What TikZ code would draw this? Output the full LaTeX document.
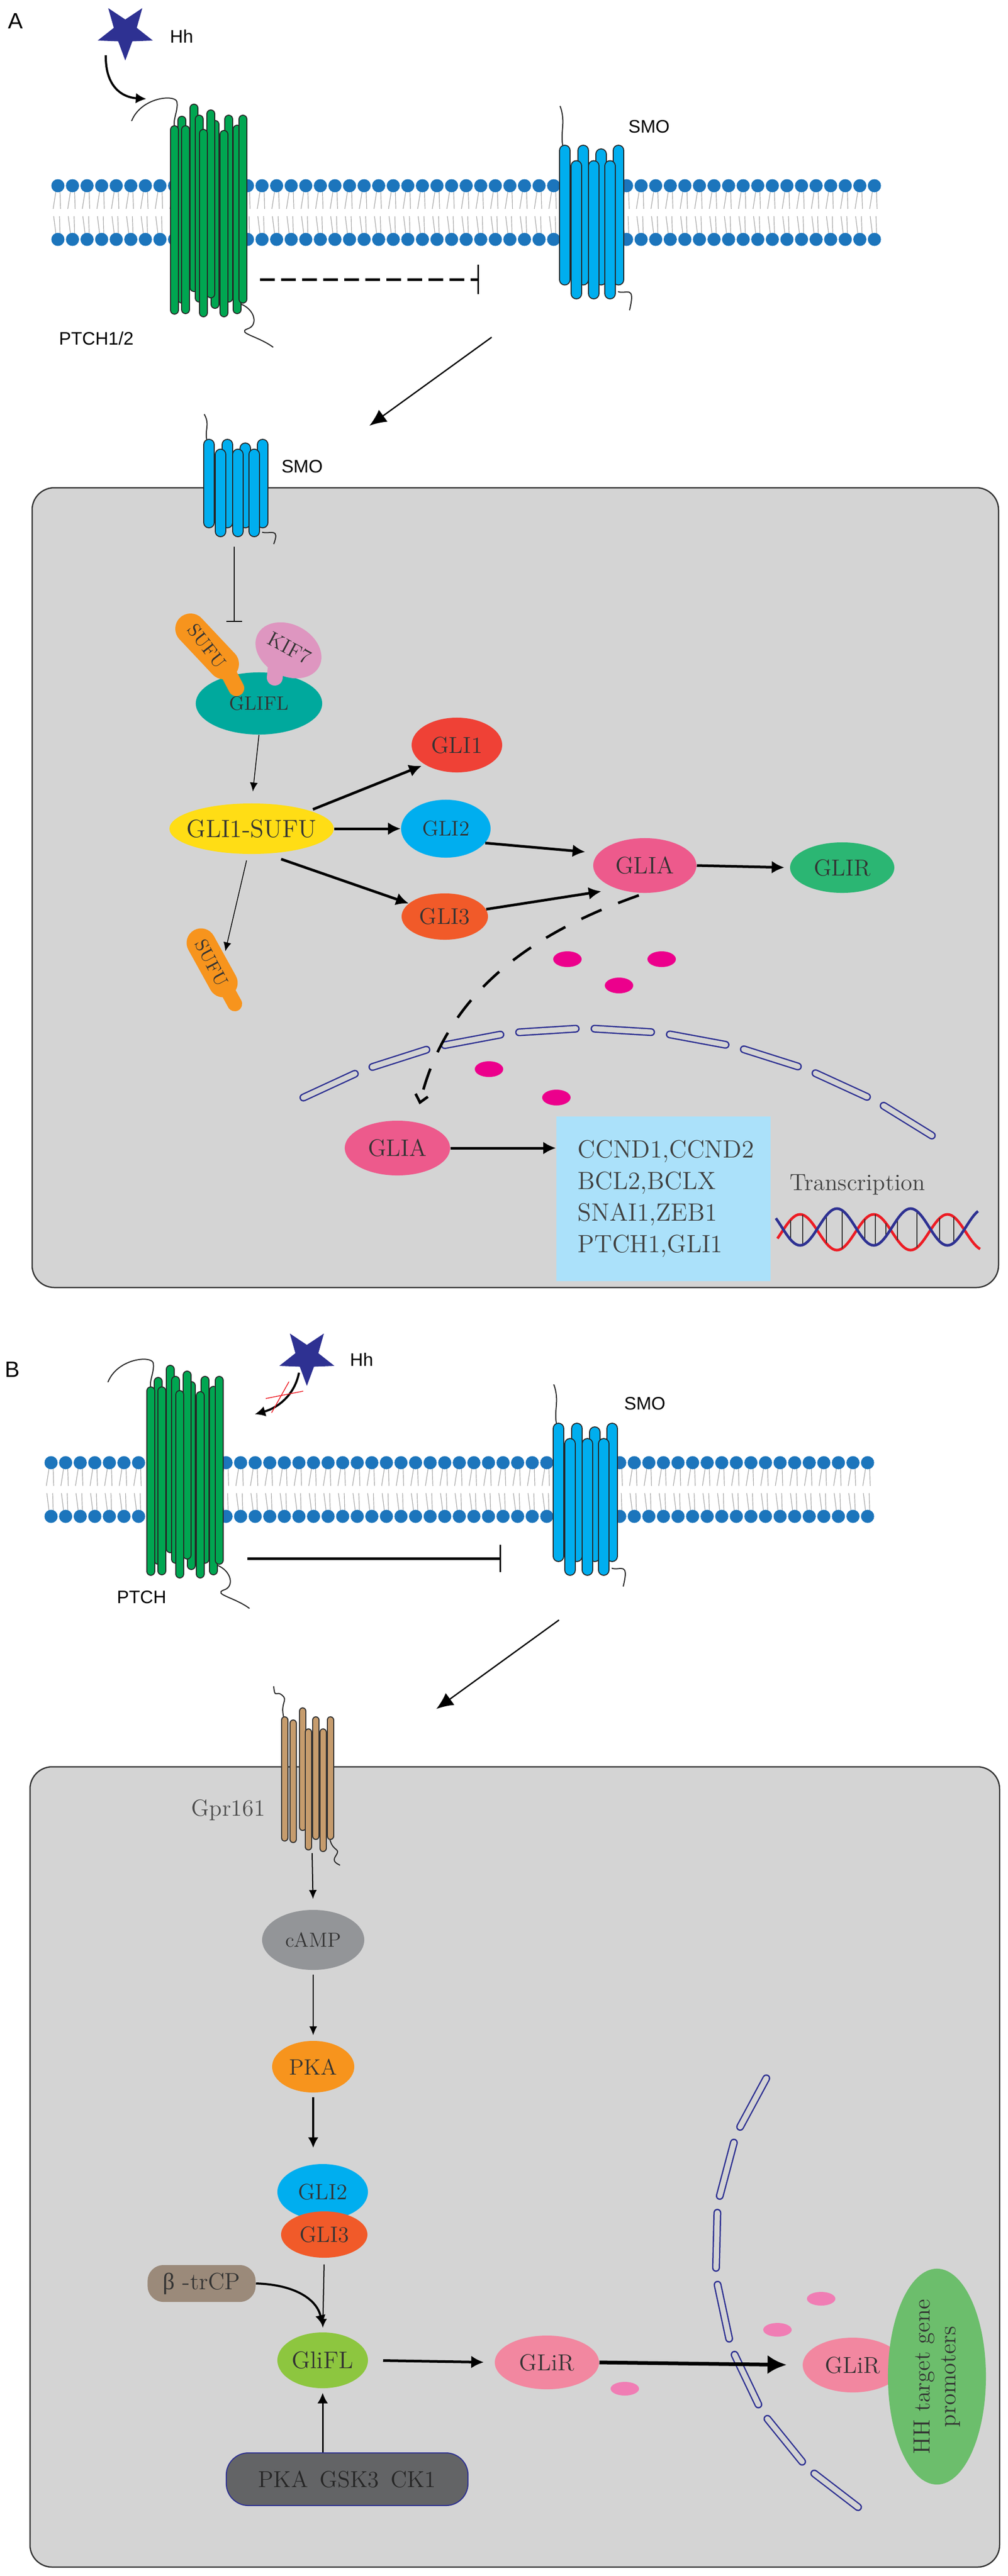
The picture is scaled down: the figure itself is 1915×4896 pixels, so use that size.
\documentclass[tikz,border=0pt]{standalone}
\usepackage{fontspec}
\setsansfont{Liberation Sans}
\newfontfamily\greekfont{Liberation Serif}
\usetikzlibrary{positioning,shapes.geometric,arrows.meta}

\definecolor{headblue}{RGB}{28,117,188}
\definecolor{tailgray}{RGB}{165,165,165}
\definecolor{ptchgreen}{RGB}{0,166,81}
\definecolor{smoblue}{RGB}{0,174,239}
\definecolor{hhblue}{RGB}{46,49,146}
\definecolor{cellgray}{RGB}{212,212,212}
\definecolor{gliflteal}{RGB}{0,169,157}
\definecolor{sufuorange}{RGB}{247,148,29}
\definecolor{kifpink}{RGB}{222,150,192}
\definecolor{sufuyellow}{RGB}{255,221,21}
\definecolor{gliired}{RGB}{239,65,54}
\definecolor{gliorange}{RGB}{241,90,41}
\definecolor{gliapink}{RGB}{237,90,140}
\definecolor{glirgreen}{RGB}{43,182,115}
\definecolor{dotmag}{RGB}{236,0,140}
\definecolor{nucnavy}{RGB}{46,49,146}
\definecolor{genebox}{RGB}{171,225,250}
\definecolor{dnared}{RGB}{237,28,36}
\definecolor{gprtan}{RGB}{198,156,109}
\definecolor{campgray}{RGB}{147,149,152}
\definecolor{trcpbrown}{RGB}{155,138,122}
\definecolor{gliflgreen}{RGB}{141,198,63}
\definecolor{glirpink}{RGB}{242,135,160}
\definecolor{dotpink}{RGB}{240,125,180}
\definecolor{promgreen}{RGB}{108,190,108}
\definecolor{kinasegray}{RGB}{99,100,102}

\tikzset{
  mol/.style={ellipse, inner sep=0pt, text=black!80, font=\fontsize{12.5}{15}\selectfont},
  lbl/.style={inner sep=0pt, font=\sffamily\fontsize{9.8}{12}\selectfont},
  tailline/.style={line width=0.02cm, black!85},
  lipid/.style={line width=0.012cm, tailgray},
  ptchrod/.style={draw=black!85, line width=0.02cm, double=ptchgreen, double distance=0.13cm, line cap=round},
  smorod/.style={draw=black!85, line width=0.02cm, double=smoblue, double distance=0.18cm, line cap=round},
  gprrod/.style={draw=black!80, line width=0.02cm, double=gprtan, double distance=0.10cm, line cap=round},
  envseg/.style={draw=nucnavy, line width=0.025cm, double=cellgray, double distance=0.10cm, line cap=round},
  panel/.style={draw=black!80, line width=0.025cm, fill=cellgray, rounded corners=0.42cm},
  thinarr/.style={-{Latex[length=0.17cm,width=0.15cm]}, line width=0.02cm},
  boldarr/.style={-{Latex[length=0.24cm,width=0.24cm]}, line width=0.05cm},
  longarr/.style={-{Latex[length=0.32cm,width=0.28cm]}, line width=0.025cm},
  inhib/.style={-{Bar[width=0.56cm,line width=0.03cm]}, line width=0.05cm},
  hhstar/.style={star, star points=5, star point ratio=2.4, minimum size=1.1cm, inner sep=0pt, fill=hhblue, rotate=36},
}

\newcommand{\bilayer}[3]{%
  \foreach \i in {1,...,#3}{
    \pgfmathsetmacro{\hx}{#1+27.7*(\i-1)}
    \draw[lipid] (\hx-4,#2+12) -- (\hx-9,#2+44) (\hx+4,#2+12) -- (\hx+5,#2+44)
                 (\hx-4,#2+90) -- (\hx-8,#2+58) (\hx+4,#2+90) -- (\hx+3,#2+58);
    \fill[headblue] (\hx,#2) circle[radius=12.5] (\hx,#2+102) circle[radius=12.5];
  }}
\newcommand{\ptch}[2]{%
  \draw[tailline] (#1-73,#2+33) .. controls (#1-55,#2-12) and (#1+8,#2-18) .. (#1+13,#2-4)
    .. controls (#1+16,#2+12) and (#1+6,#2+28) .. (#1+8,#2+42);
  \draw[tailline] (#1+135,#2+381) .. controls (#1+162,#2+392) and (#1+168,#2+422) .. (#1+147,#2+428)
    .. controls (#1+126,#2+436) and (#1+168,#2+442) .. (#1+196,#2+463);
  \foreach \xo/\yt/\yb in {37/0/358,14/23/380,77/31/390,103/21/378,69/11/370,47/21/378,
      119/40/400,0/41/401,21/41/400,55/48/406,94/50/406,130/21/380}
    \draw[ptchrod] (#1+\xo+8.5,#2+\yt+8.5) -- (#1+\xo+8.5,#2+\yb-8.5);
}
\newcommand{\smo}[3]{%
  \draw[tailline] (#1+8,#2+6) .. controls (#1+1,#2-0.08*#3) and (#1+14,#2-0.14*#3) .. (#1+2,#2-0.25*#3);
  \draw[tailline] (#1+112,#2+0.95*#3) .. controls (#1+128,#2+0.97*#3) and (#1+146,#2+0.9*#3) .. (#1+134,#2+1.07*#3);
  \foreach \xo/\yt in {11/0,46/0,80/7,113/0}
    \draw[smorod] (#1+\xo,#2+\yt+11) -- (#1+\xo,#2+0.91*#3-11);
  \foreach \xo in {33,66,97}
    \draw[smorod] (#1+\xo,#2+0.1*#3+11) -- (#1+\xo,#2+#3-11);
}
\newcommand{\molname}[1]{\makebox[0pt]{#1}}

\begin{document}
\begin{tikzpicture}[x=0.01cm,y=-0.01cm]
\useasboundingbox (0,0) rectangle (1915,4896);

% A: membrane
\node[lbl, font=\sffamily\fontsize{12}{14}\selectfont] (labA) at (30,40) {A};
\bilayer{110}{353}{57}
\ptch{323}{197}
\smo{1062}{275}{294}
\node[hhstar] (hhA) at (238,60) {};
\node[lbl] (hhAlbl) at (345,69) {Hh};
\coordinate (ptchAin) at (278,188);
\draw[-{Latex[length=0.2cm,width=0.2cm]}, line width=0.04cm]
  ([xshift=-0.37cm,yshift=-0.45cm]hhA.center) .. controls (200,165) and (232,185) .. (ptchAin);
\node[lbl] (ptchAlbl) at (183,643) {PTCH1/2};
\node[lbl] (smoAlbl) at (1233,241) {SMO};
\coordinate (inhA1) at (494,531);
\coordinate (inhA2) at (910,531);
\draw[inhib, dash pattern=on 0.28cm off 0.12cm] (inhA1) -- (inhA2);
\coordinate (smoAout) at (934,641);
\coordinate (cellAin) at (702,809);
\draw[longarr] (smoAout) -- (cellAin);

% A: cell
\draw[panel] (61,927) rectangle (1897,2447);
\smo{386}{834}{187}
\node[lbl] (smo2lbl) at (574,887) {SMO};
\coordinate (smo2out) at (445,1039);
\coordinate (sufu1in) at (445,1182);
\draw[-{Bar[width=0.3cm,line width=0.025cm]}, line width=0.02cm] (smo2out) -- (sufu1in);

\node[mol, fill=gliflteal, minimum width=2.4cm, minimum height=1.18cm, font=\fontsize{10.5}{12}\selectfont] (glifl) at (492,1337) {GLIFL};
\draw[line width=0.58cm, line cap=round, sufuorange] (362,1195) -- (425,1262);
\draw[line width=0.3cm, line cap=round, sufuorange] (425,1262) -- (449,1308);
\node[rotate=-52, inner sep=0pt, text=black!80, font=\fontsize{10}{12}\selectfont] (sufu1) at (393,1228) {SUFU};
\draw[line width=0.3cm, line cap=round, kifpink] (524,1266) -- (522,1288);
\fill[kifpink, rotate around={-28:(548,1236)}] (548,1236) ellipse[x radius=66, y radius=49];
\node[rotate=-28, inner sep=0pt, text=black!80, font=\fontsize{11}{13}\selectfont] (kif7) at (550,1232) {KIF7};

\node[mol, fill=sufuyellow, minimum width=3.12cm, minimum height=0.96cm, font=\fontsize{13.5}{15}\selectfont] (glisufu) at (478,1575) {\molname{GLI1-SUFU}};
\node[mol, fill=gliired, minimum width=1.72cm, minimum height=1.04cm] (gli1) at (868,1416) {GLI1};
\node[mol, fill=smoblue, minimum width=1.7cm, minimum height=1.1cm, font=\fontsize{11.5}{14}\selectfont] (gli2a) at (847,1575) {GLI2};
\node[mol, fill=gliorange, minimum width=1.64cm, minimum height=0.88cm, font=\fontsize{12.3}{14}\selectfont] (gli3a) at (845,1742) {GLI3};
\node[mol, fill=gliapink, minimum width=1.96cm, minimum height=1.04cm, font=\fontsize{12.9}{15}\selectfont] (glia) at (1225,1645) {GLIA};
\node[mol, fill=glirgreen, minimum width=1.98cm, minimum height=0.96cm] (glir) at (1600,1649) {GLIR};

\draw[thinarr, line width=0.015cm, shorten >=0.22cm] (glifl.south) -- (glisufu.north);
\draw[boldarr, shorten <=0.06cm, shorten >=0.06cm] (glisufu.north east) -- (gli1.south west);
\draw[boldarr] (glisufu.east) -- (gli2a.west);
\draw[boldarr, shorten <=0.3cm] (glisufu.-60) -- (gli3a.160);
\draw[boldarr, shorten >=0.25cm] (gli2a.-20) -- (glia.165);
\draw[boldarr, shorten >=0.3cm] (gli3a.10) -- (glia.220);
\draw[boldarr, shorten >=0.1cm] (glia.east) -- (glir.west);

\draw[line width=0.55cm, line cap=round, sufuorange] (382,1792) -- (424,1868);
\draw[line width=0.28cm, line cap=round, sufuorange] (424,1868) -- (446,1908);
\node[rotate=-62, inner sep=0pt, text=black!80, font=\fontsize{10}{12}\selectfont] (sufu2) at (402,1830) {SUFU};
\coordinate (sufu2in) at (428,1808);
\draw[thinarr, line width=0.015cm, shorten <=0.12cm] (glisufu.262) -- (sufu2in);

\foreach \k in {0,...,8}{
  \pgfmathsetmacro{\angA}{-117.43+7.06*\k}
  \pgfmathsetmacro{\angB}{\angA+5.3}
  \draw[envseg] ({1113+1165*cos(\angA)},{3120+1165*sin(\angA)}) -- ({1113+1165*cos(\angB)},{3120+1165*sin(\angB)});
}
\foreach \p in {(1078,1823),(1257,1823),(1176,1873),(929,2032),(1057,2086)}
  \fill[dotmag] \p ellipse[x radius=27, y radius=15];

\node[mol, fill=gliapink, minimum width=2.0cm, minimum height=1.04cm, font=\fontsize{12.9}{15}\selectfont] (glia2) at (755,2182) {GLIA};
\coordinate (nucentry) at (797,2099);
\draw[-{Straight Barb[length=0.14cm,width=0.24cm]}, line width=0.05cm, dash pattern=on 0.42cm off 0.34cm, shorten <=0.12cm]
  (glia.south) .. controls (1020,1770) and (850,1880) .. (nucentry);

\node[fill=genebox, minimum width=4.07cm, minimum height=3.13cm, text width=3.25cm, inner xsep=0.41cm, align=left,
  text=black!75, font=\fontsize{13.5}{17}\selectfont] (genes) at (1260.5,2278.5) {CCND1,CCND2\\BCL2,BCLX\\SNAI1,ZEB1\\PTCH1,GLI1};
\draw[boldarr] (glia2.east) -- (glia2.east -| genes.west);
\node[text=black!75, font=\fontsize{12.7}{15}\selectfont] (transc) at (1629,2252) {Transcription};
\draw[dnared, line width=0.05cm] plot[domain=1477:1862, samples=100] (\x,{2342-34*cos(2.5714*(\x-1520))});
\foreach \rx in {1502,1525,1570,1600,1643,1663,1683,1705,1742,1785,1812}
  \draw[black!80, line width=0.015cm] (\rx,{2332+35*cos(2.5714*(\rx-1520))}) -- (\rx,{2342-34*cos(2.5714*(\rx-1520))});
\draw[nucnavy, line width=0.05cm] plot[domain=1474:1858, samples=100] (\x,{2332+35*cos(2.5714*(\x-1520))});

% B: membrane
\node[lbl, font=\sffamily\fontsize{12}{14}\selectfont] (labB) at (24,2603) {B};
\bilayer{97}{2780}{57}
\ptch{278}{2594}
\smo{1050}{2704}{291}
\node[hhstar] (hhB) at (583,2579) {};
\node[lbl] (hhBlbl) at (687,2584) {Hh};
\coordinate (ptchBin) at (484,2688);
\draw[-{Latex[length=0.2cm,width=0.2cm]}, line width=0.04cm]
  ([xshift=-0.15cm,yshift=-0.3cm]hhB.center) .. controls (560,2650) and (530,2675) .. (ptchBin);
\draw[dnared, line width=0.015cm] (505,2658) -- (576,2644) (516,2685) -- (549,2626);
\node[lbl] (ptchBlbl) at (269,3036) {PTCH};
\node[lbl] (smoBlbl) at (1225,2668) {SMO};
\coordinate (inhB1) at (470,2962);
\coordinate (inhB2) at (952,2962);
\draw[inhib, -{Bar[width=0.52cm,line width=0.03cm]}] (inhB1) -- (inhB2);
\coordinate (smoBout) at (1062,3079);
\coordinate (cellBin) at (829,3248);
\draw[longarr] (smoBout) -- (cellBin);

% B: cell
\draw[panel] (57,3358) rectangle (1899,4879);
\draw[tailline] (539,3264) .. controls (532,3235) and (548,3232) .. (536,3222) .. controls (525,3212) and (522,3230) .. (520,3205);
\draw[tailline] (627,3497) .. controls (633,3520) and (648,3512) .. (638,3527) .. controls (630,3538) and (640,3542) .. (646,3545);
\foreach \xo/\yt/\yb in {575/3245/3480,600/3262/3497,627.5/3262/3497,540.5/3262/3500,557/3268/3503,586/3285/3517,613.5/3285/3520}
  \draw[gprrod] (\xo,\yt+7) -- (\xo,\yb-7);
\node[text=black!70, font=\fontsize{12.6}{15}\selectfont] (gprlbl) at (434,3440) {Gpr161};
\coordinate (gprout) at (593,3522);

\node[mol, fill=campgray, minimum width=1.94cm, minimum height=1.14cm, font=\fontsize{11}{13}\selectfont] (camp) at (595,3687) {cAMP};
\node[mol, fill=sufuorange, minimum width=1.56cm, minimum height=0.98cm, font=\fontsize{12}{14}\selectfont] (pka) at (595,3928) {PKA};
\node[mol, fill=smoblue, minimum width=1.72cm, minimum height=1.06cm, font=\fontsize{12}{14}\selectfont] (gli2b) at (613,4166) {GLI2};
\node[mol, fill=gliorange, minimum width=1.64cm, minimum height=0.88cm, font=\fontsize{12}{14}\selectfont] (gli3b) at (616,4247) {GLI3};
\node[fill=trcpbrown, rounded corners=0.3cm, minimum width=2.05cm, minimum height=0.7cm, inner sep=0pt,
  text=black!80, font=\fontsize{12.7}{15}\selectfont] (trcp) at (383,4340) {{\greekfont β} -trCP};
\node[mol, fill=gliflgreen, minimum width=1.72cm, minimum height=1.06cm, font=\fontsize{13}{15}\selectfont] (gliflb) at (613,4486) {\molname{GliFL}};
\node[draw=nucnavy, line width=0.02cm, fill=kinasegray, rounded corners=0.42cm, minimum width=4.59cm, minimum height=1.0cm,
  inner sep=0pt, text=black!85, font=\fontsize{12.5}{15}\selectfont] (kinase) at (659.5,4712) {PKA\hspace{0.22cm}GSK3\hspace{0.22cm}CK1};
\node[mol, fill=glirpink, minimum width=1.98cm, minimum height=1.02cm] (glirb) at (1039,4490) {GLiR};

\draw[thinarr, shorten >=0.2cm] (gprout) -- (camp.north);
\draw[thinarr, shorten <=0.08cm, shorten >=0.1cm] (camp.south) -- (pka.north);
\draw[-{Latex[length=0.2cm,width=0.2cm]}, line width=0.035cm, shorten <=0.08cm, shorten >=0.3cm] (pka.south) -- (pka.south |- gli2b.north);
\draw[thinarr, shorten <=0.12cm, shorten >=0.08cm] (gli3b.south) -- (gliflb.north);
\draw[-{Latex[length=0.2cm,width=0.2cm]}, line width=0.04cm] (trcp.east) .. controls (560,4342) and (602,4370) .. ([yshift=0.12cm]gliflb.north);
\draw[-{Latex[length=0.2cm,width=0.2cm]}, line width=0.03cm, shorten >=0.08cm] (gliflb.south |- kinase.north) -- (gliflb.south);
\draw[boldarr, shorten <=0.28cm, shorten >=0.2cm] (gliflb.east) -- (glirb.west);

\foreach \k in {0,...,6}{
  \pgfmathsetmacro{\angA}{213.46-13.46*\k}
  \pgfmathsetmacro{\angB}{\angA-10.3}
  \draw[envseg] ({1943+584*cos(\angA)},{4272+584*sin(\angA)}) -- ({1943+584*cos(\angB)},{4272+584*sin(\angB)});
}
\foreach \p in {(1187,4540),(1560,4369),(1477,4428)}
  \fill[dotpink] \p ellipse[x radius=27, y radius=13];
\node[mol, fill=glirpink, minimum width=1.9cm, minimum height=1.04cm] (glirn) at (1620,4495) {GLiR};
\node[ellipse, fill=promgreen, minimum width=1.86cm, minimum height=4.1cm, inner sep=0pt] (prom) at (1780,4517) {};
\node[rotate=90, align=center, text=black!80, font=\fontsize{12.7}{14}\selectfont] (promlbl) at (prom) {HH target gene\\promoters};
\draw[-{Latex[length=0.36cm,width=0.36cm]}, line width=0.07cm, shorten >=0.3cm] (glirb.east) -- (glirn.west);
\end{tikzpicture}
\end{document}
